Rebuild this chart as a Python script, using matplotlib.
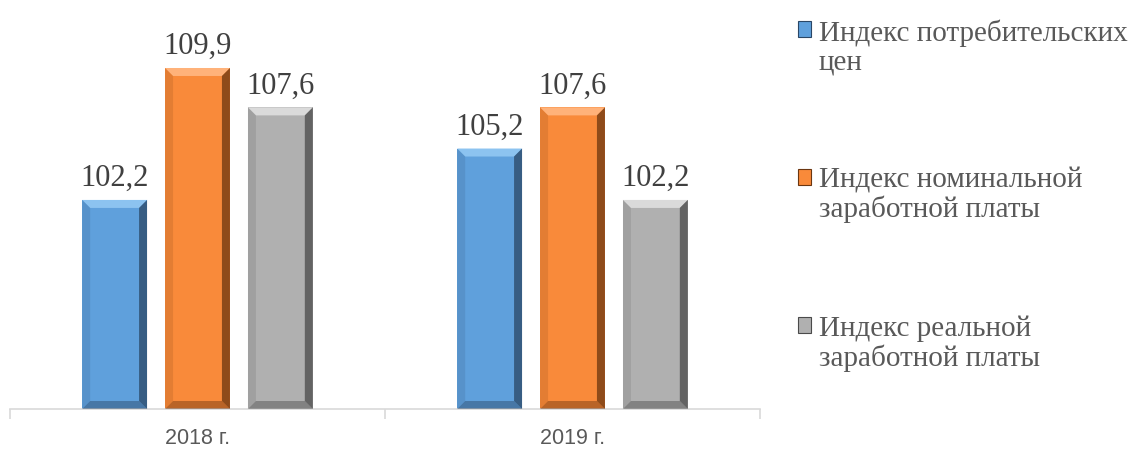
import numpy as np
import matplotlib
matplotlib.use('Agg')
import matplotlib.pyplot as plt
from matplotlib.patches import Polygon, Patch, Rectangle
from matplotlib.legend_handler import HandlerPatch

# данные
years = ['2018 г.', '2019 г.']
series = ['Индекс потребительских\nцен',
          'Индекс номинальной\nзаработной платы',
          'Индекс реальной\nзаработной платы']
cpi = [102.2, 105.2]
nominal = [109.9, 107.6]
real = [107.6, 102.2]

colors = ['#5fa0dc', '#f98a3a', '#b0b0b0']
dark = ['#2a4766', '#6b3610', '#4a4a4a']
light = ['#8cc3f0', '#ffb27a', '#dadada']

fig = plt.figure(figsize=(11.32, 4.5), dpi=100)
ax = fig.add_axes([10 / 1132, 1 - 409 / 450, 750 / 1132, 377 / 450])
ax.set_xlim(-0.5, 1.5)
ax.set_ylim(90, 112)

x = np.arange(len(years))
width = 0.173
step = 0.221

bars = []
for i, vals in enumerate([cpi, nominal, real]):
    b = ax.bar(x + (i - 1) * step, vals, width, bottom=0, color=colors[i], zorder=2)
    bars.append(b)

# эффект рельефа (bevel) поверх столбцов
fig.canvas.draw()
inv = ax.transData.inverted()
bw = 8  # пиксели
for i, b in enumerate(bars):
    for rect in b:
        x0, x1 = rect.get_x(), rect.get_x() + rect.get_width()
        y0, y1 = 90, rect.get_height()
        (px0, py0) = ax.transData.transform((x0, y0))
        (px1, py1) = ax.transData.transform((x1, y1))
        def d(px, py):
            return inv.transform((px, py))
        top = [d(px0, py1), d(px1, py1), d(px1 - bw, py1 - bw), d(px0 + bw, py1 - bw)]
        right = [d(px1, py1), d(px1, py0), d(px1 - bw, py0 + bw), d(px1 - bw, py1 - bw)]
        bottom = [d(px0, py0), d(px1, py0), d(px1 - bw, py0 + bw), d(px0 + bw, py0 + bw)]
        left = [d(px0, py1), d(px0, py0), d(px0 + bw, py0 + bw), d(px0 + bw, py1 - bw)]
        ax.add_patch(Polygon(top, closed=True, color=light[i], lw=0, zorder=3))
        ax.add_patch(Polygon(right, closed=True, color=dark[i], alpha=0.75, lw=0, zorder=3))
        ax.add_patch(Polygon(bottom, closed=True, color=dark[i], alpha=0.45, lw=0, zorder=3))
        ax.add_patch(Polygon(left, closed=True, color=dark[i], alpha=0.15, lw=0, zorder=3))
        ax.annotate(f'{rect.get_height():.1f}'.replace('.', ','),
                    (rect.get_x() + rect.get_width() / 2, rect.get_height()),
                    xytext=(0, 5), textcoords='offset points', ha='center', va='bottom',
                    fontsize=22, family='Liberation Serif', color='#404040')

for s in ['top', 'left', 'right']:
    ax.spines[s].set_visible(False)
ax.spines['bottom'].set_color('#d9d9d9')
ax.spines['bottom'].set_linewidth(1.2)
ax.set_yticks([])
ax.set_xticks(x)
ax.set_xticklabels(years, fontsize=15.5, color='#595959', family='Liberation Sans')
ax.tick_params(axis='x', which='major', length=0, pad=14)
ax.set_xticks([-0.5, 0.5, 1.5], minor=True)
ax.tick_params(axis='x', which='minor', length=7, color='#d9d9d9', width=1.2)


# маркер легенды на уровне первой строки
def top_square(legend, orig_handle, xdescent, ydescent, width, height, fontsize):
    return Rectangle((-xdescent, -ydescent + 0.62 * fontsize), width, height)


handles = [Patch(facecolor=colors[i], edgecolor=dark[i], lw=0.8) for i in range(3)]
leg = fig.legend(handles, series, loc='upper left', bbox_to_anchor=(0.682, 1.015),
                 frameon=False, handlelength=0.45, handleheight=0.45, handletextpad=0.25,
                 labelspacing=3.17, prop={'family': 'Liberation Serif', 'size': 21},
                 handler_map={Patch: HandlerPatch(patch_func=top_square)})
for t in leg.get_texts():
    t.set_color('#595959')
    t.set_linespacing(1.1)

fig.savefig('out.png', dpi=100)
